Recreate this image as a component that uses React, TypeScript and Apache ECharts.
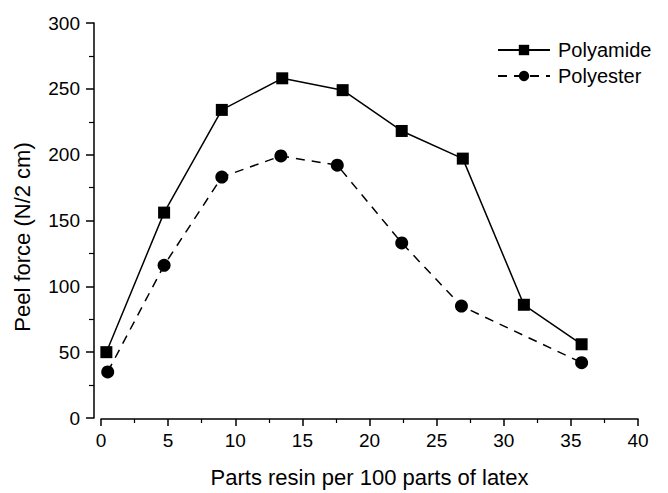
import React, { useEffect, useRef } from "react";
import * as echarts from "echarts";

const polyamideX = [0.4, 4.7, 9.0, 13.5, 18.0, 22.4, 26.95, 31.5, 35.8];
const polyamideY = [50, 156, 234, 258, 249, 218, 197, 86, 56];
const polyesterX = [0.5, 4.7, 9.0, 13.4, 17.6, 22.4, 26.85, 35.8];
const polyesterY = [35, 116, 183, 199, 192, 133, 85, 42];
const seriesNames = ["Polyamide", "Polyester"];
const xTitle = "Parts resin per 100 parts of latex";
const yTitle = "Peel force (N/2 cm)";

const FONT = "Liberation Sans, Arial, Helvetica, sans-serif";

export default function App() {
  const ref = useRef<HTMLDivElement>(null);
  useEffect(() => {
    if (!ref.current) return;
    const chart = echarts.init(ref.current, undefined, { renderer: "svg" });
    const pairs = (xs: number[], ys: number[]) => xs.map((x, i) => [x, ys[i]]);
    chart.setOption({
      animation: false,
      backgroundColor: "#fff",
      textStyle: { fontFamily: FONT, color: "#000" },
      grid: { left: 101, right: 30, top: 23, bottom: 73 },
      legend: {
        orient: "vertical",
        left: 492,
        top: 35,
        itemWidth: 52,
        itemHeight: 13,
        itemGap: 6,
        textStyle: { fontFamily: FONT, fontSize: 20, color: "#000", padding: [0, 0, 0, 3] },
        data: seriesNames,
      },
      graphic: [
        {
          type: "text",
          x: 22,
          y: 237,
          rotation: Math.PI / 2,
          style: {
            text: yTitle,
            fontFamily: FONT,
            fontSize: 22,
            fill: "#000",
            align: "center",
            verticalAlign: "middle",
          },
        },
      ],
      xAxis: {
        type: "value",
        min: 0,
        max: 40,
        interval: 5,
        offset: 1,
        name: xTitle,
        nameLocation: "middle",
        nameGap: 47,
        nameTextStyle: { fontFamily: FONT, fontSize: 22, color: "#000" },
        axisLine: { show: true, onZero: false, lineStyle: { color: "#000", width: 1.5 } },
        axisTick: { show: true, length: 7, lineStyle: { color: "#000", width: 1.5 } },
        minorTick: { show: true, splitNumber: 2, length: 4, lineStyle: { color: "#000", width: 1.2 } },
        axisLabel: { fontFamily: FONT, fontSize: 19, color: "#000", margin: 12 },
        splitLine: { show: false },
      },
      yAxis: {
        type: "value",
        min: 0,
        max: 300,
        interval: 50,
        offset: 7,
        axisLine: { show: true, onZero: false, lineStyle: { color: "#000", width: 1.5 } },
        axisTick: { show: true, length: 8, lineStyle: { color: "#000", width: 1.5 } },
        minorTick: { show: true, splitNumber: 2, length: 5, lineStyle: { color: "#000", width: 1.2 } },
        axisLabel: { fontFamily: FONT, fontSize: 19, color: "#000", margin: 14 },
        splitLine: { show: false },
      },
      series: [
        {
          name: seriesNames[0],
          type: "line",
          data: pairs(polyamideX, polyamideY),
          symbol: "rect",
          symbolSize: 12,
          itemStyle: { color: "#000" },
          lineStyle: { color: "#000", width: 1.5, type: "solid" },
        },
        {
          name: seriesNames[1],
          type: "line",
          data: pairs(polyesterX, polyesterY),
          symbol: "circle",
          symbolSize: 13,
          itemStyle: { color: "#000" },
          lineStyle: { color: "#000", width: 1.5, type: [9, 7] },
        },
      ],
    });
    return () => chart.dispose();
  }, []);
  return <div ref={ref} style={{ width: 668, height: 493, position: "absolute", left: 0, top: 0 }} />;
}
